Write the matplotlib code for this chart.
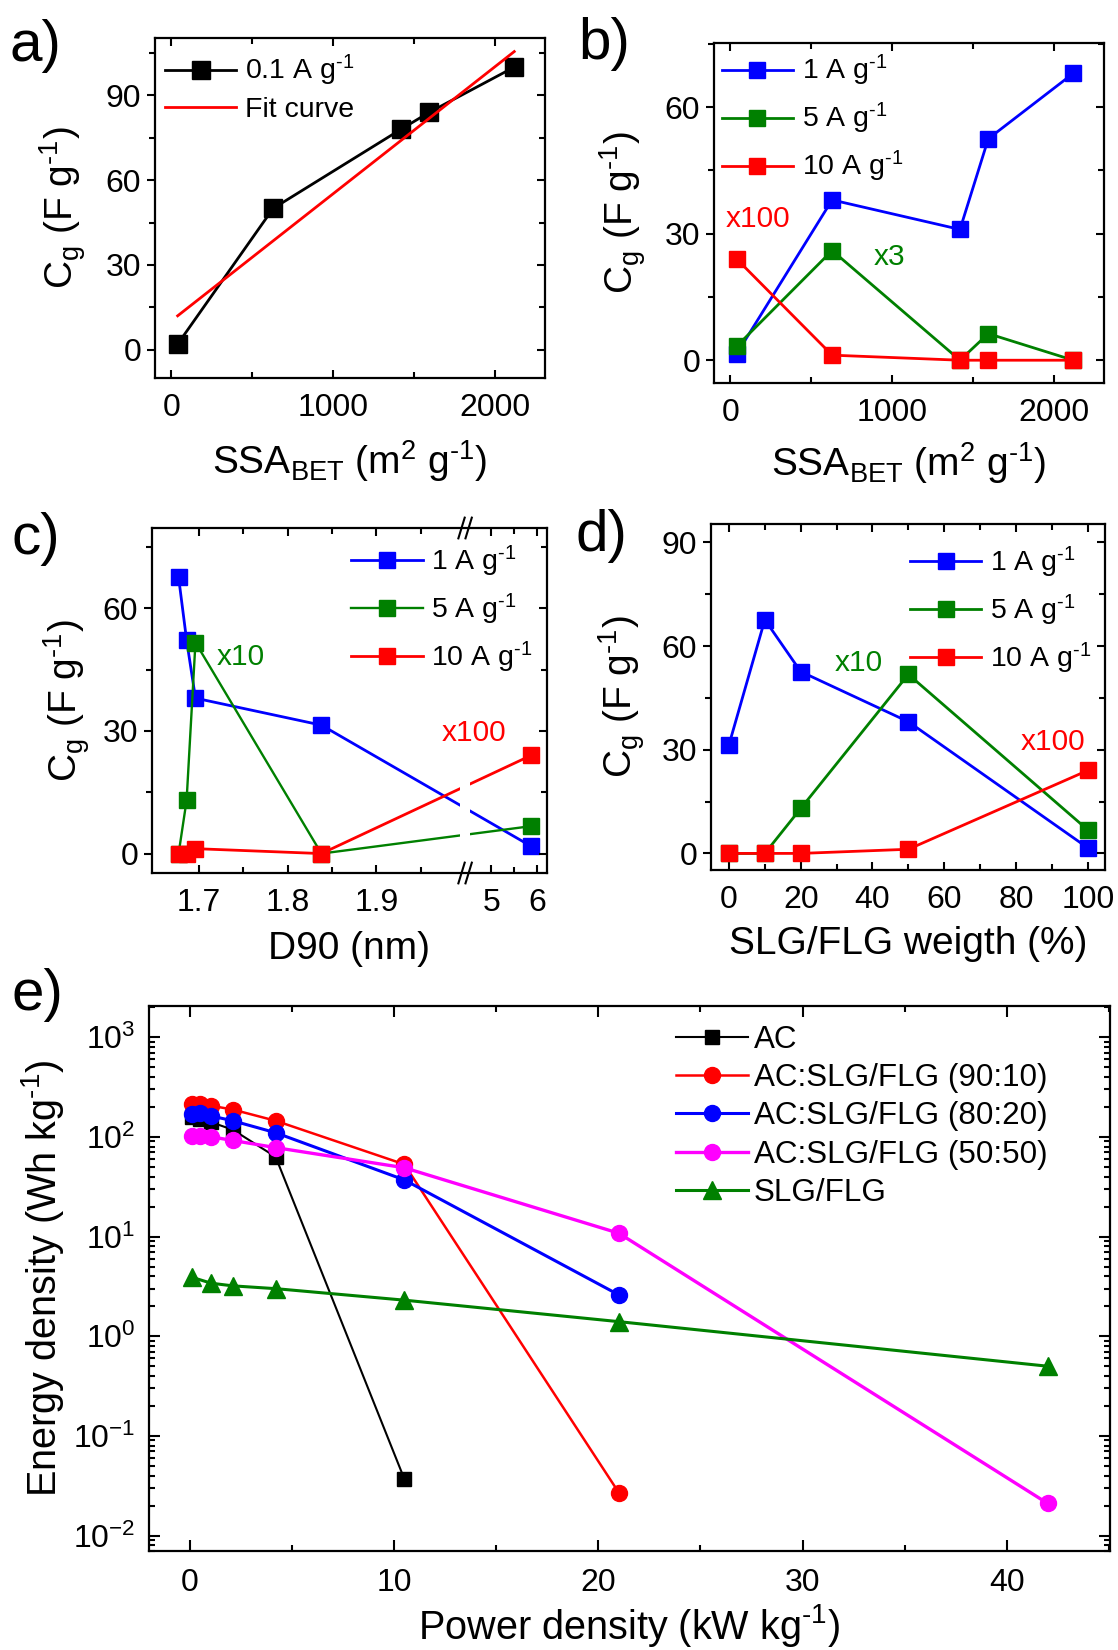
import numpy as np
import matplotlib
matplotlib.use('Agg')
import matplotlib.pyplot as plt
from matplotlib.ticker import MultipleLocator, FixedLocator, LogLocator, NullFormatter, FixedFormatter
from matplotlib.patches import Rectangle

plt.rcParams['font.family'] = ['Liberation Sans', 'DejaVu Sans']
plt.rcParams['mathtext.fontset'] = 'custom'
plt.rcParams['mathtext.rm'] = 'Liberation Sans'
plt.rcParams['mathtext.it'] = 'Liberation Sans:italic'
plt.rcParams['mathtext.bf'] = 'Liberation Sans:bold'
plt.rcParams['mathtext.sf'] = 'Liberation Sans'
plt.rcParams['axes.linewidth'] = 1.6

# ---------------- data ----------------
# panel a
ssa = [40, 630, 1420, 1595, 2120]
cg_01 = [2, 50, 78, 84, 100]
fit_ssa = [40, 2120]
fit_cg = [12, 105.5]
# panel b
cg1_ssa = [1.5, 38, 31, 52.5, 68]
cg5_ssa = [3.3, 26, 0, 6.3, 0]
cg10_ssa = [24, 1.2, 0, 0, 0]
# panel c
d90 = [1.677, 1.686, 1.696, 1.838, 5.87]
cg1_d90 = [67.5, 52.2, 38, 31.4, 1.8]
cg5_d90 = [0, 13, 51.6, 0, 6.7]
cg10_d90 = [0, 0, 1.2, 0, 24]
d90_ticks = [1.7, 1.8, 1.9, 5, 6]
d90_ticklabels = ['1.7', '1.8', '1.9', '5', '6']
d90_minor = [1.75, 1.85, 1.95, 5.5]
# panel d
wt = [0, 10, 20, 50, 100]
cg1_wt = [31.4, 67.6, 52.6, 38.1, 1.6]
cg5_wt = [0, 0, 13, 51.8, 6.8]
cg10_wt = [0, 0, 0, 1.2, 24]
# panel e
p_ac = [0.1, 0.5, 1.05, 2.1, 4.2, 10.5]
e_ac = [160, 150, 140, 118, 63, 0.037]
p_9010 = [0.1, 0.5, 1.05, 2.1, 4.2, 10.5, 21]
e_9010 = [212, 212, 205, 188, 145, 53, 0.027]
p_8020 = [0.1, 0.5, 1.05, 2.1, 4.2, 10.5, 21]
e_8020 = [170, 172, 162, 145, 110, 37, 2.6]
p_5050 = [0.1, 0.5, 1.05, 2.1, 4.2, 10.5, 21, 42]
e_5050 = [102, 102, 100, 92, 78, 49, 10.8, 0.021]
p_slg = [0.1, 1.05, 2.1, 4.2, 10.5, 21, 42]
e_slg = [3.9, 3.4, 3.2, 3.0, 2.3, 1.4, 0.5]

W, H = 1118, 1650
fig = plt.figure(figsize=(W / 100, H / 100), dpi=100)

BLUE, GREEN, RED, MAG = '#0000FF', '#008000', '#FF0000', '#FF00FF'
TICK_FS = 23
LAB_FS = 28
LEG_FS = 20.5
ANN_FS = 21.5
INV = '$^{\u2010 1}$'


def add_ax(left, top, right, bottom):
    return fig.add_axes([left / W, 1 - bottom / H, (right - left) / W, (bottom - top) / H])


def style_small(ax, ymaj, ymin):
    ax.tick_params(axis='x', which='both', direction='in', top=True, bottom=True, pad=11)
    ax.tick_params(axis='y', which='both', direction='out', left=True, right=False, pad=4)
    ax.tick_params(which='major', length=6, width=1.5, labelsize=TICK_FS)
    ax.tick_params(which='minor', length=4, width=1.5)
    ax.yaxis.set_major_locator(MultipleLocator(ymaj))
    ax.yaxis.set_minor_locator(MultipleLocator(ymin))
    tw = ax.twinx()
    tw.set_ylim(ax.get_ylim())
    tw.yaxis.set_major_locator(MultipleLocator(ymaj))
    tw.yaxis.set_minor_locator(MultipleLocator(ymin))
    tw.tick_params(axis='y', which='both', direction='in', right=True, labelright=False, width=1.5)
    tw.tick_params(which='major', length=6)
    tw.tick_params(which='minor', length=4)
    for s in tw.spines.values():
        s.set_visible(False)
    return tw


def set_labels(ax, xl, yl, xy_y, yx):
    ax.set_xlabel(xl, fontsize=LAB_FS)
    ax.set_ylabel(yl, fontsize=LAB_FS)
    ax.xaxis.set_label_coords(0.5, xy_y)
    ax.xaxis.label.set_va('center')
    ax.yaxis.set_label_coords(yx, 0.5)
    ax.yaxis.label.set_va('center')


def legend(ax, x, y, spacing):
    return ax.legend(loc='upper left', bbox_to_anchor=(x, y), frameon=False, fontsize=LEG_FS,
                     borderpad=0, borderaxespad=0, handlelength=2.5, handletextpad=0.3,
                     labelspacing=spacing)


YL = r'C$_\mathregular{g}$ (F g' + INV + ')'
SSAL = r'SSA$_\mathregular{BET}$ (m$^2$ g' + INV + ')'
AL = ['1 A g' + INV, '5 A g' + INV, '10 A g' + INV]

# ---------------- panel a ----------------
ax = add_ax(155, 38, 545, 378)
ax.plot(ssa, cg_01, '-s', color='k', lw=2, ms=13, label='0.1 A g' + INV)
ax.plot(fit_ssa, fit_cg, '-', color=RED, lw=2, label='Fit curve')
ax.set_xlim(-100, 2310)
ax.set_ylim(-10, 110.3)
ax.xaxis.set_major_locator(MultipleLocator(1000))
ax.xaxis.set_minor_locator(MultipleLocator(500))
style_small(ax, 30, 15)
set_labels(ax, SSAL, YL, -0.245, -0.236)
legend(ax, 0.026, 0.955, 0.3)

# ---------------- panel b ----------------
ax = add_ax(714, 43, 1104, 383)
ax.plot(ssa, cg1_ssa, '-s', color=BLUE, lw=2, ms=12, label=AL[0])
ax.plot(ssa, cg5_ssa, '-s', color=GREEN, lw=2, ms=12, label=AL[1])
ax.plot(ssa, cg10_ssa, '-s', color=RED, lw=2, ms=12, label=AL[2])
ax.set_xlim(-100, 2310)
ax.set_ylim(-5.4, 75.2)
ax.xaxis.set_major_locator(MultipleLocator(1000))
ax.xaxis.set_minor_locator(MultipleLocator(500))
style_small(ax, 30, 15)
set_labels(ax, SSAL, YL, -0.237, -0.235)
legend(ax, 0.02, 0.97, 0.45)
ax.text(0.03, 0.483, 'x100', color=RED, fontsize=ANN_FS, transform=ax.transAxes, ha='left', va='center')
ax.text(0.409, 0.371, 'x3', color=GREEN, fontsize=ANN_FS, transform=ax.transAxes, ha='left', va='center')

# ---------------- panel c (broken axis) ----------------
BRK_LO, BRK_HI, EPS, K = 2.0, 4.43, 0.0005, 0.05131


def fwd(x):
    x = np.asarray(x, dtype=float)
    return np.where(x <= BRK_LO, x,
                    np.where(x >= BRK_HI, BRK_LO + EPS + (x - BRK_HI) * K,
                             BRK_LO + (x - BRK_LO) / (BRK_HI - BRK_LO) * EPS))


def inv(u):
    u = np.asarray(u, dtype=float)
    return np.where(u <= BRK_LO, u,
                    np.where(u >= BRK_LO + EPS, BRK_HI + (u - BRK_LO - EPS) / K,
                             BRK_LO + (u - BRK_LO) / EPS * (BRK_HI - BRK_LO)))


ax = add_ax(152, 528, 547, 873)
ax.set_xscale('function', functions=(fwd, inv))
ax.plot(d90, cg1_d90, '-s', color=BLUE, lw=2, ms=12, label=AL[0])
ax.plot(d90, cg5_d90, '-s', color=GREEN, lw=1.7, ms=12, label=AL[1])
ax.plot(d90, cg10_d90, '-s', color=RED, lw=2, ms=12, label=AL[2])
ax.set_xlim(1.647, 6.22)
ax.set_ylim(-4.75, 79.6)
ax.xaxis.set_major_locator(FixedLocator(d90_ticks))
ax.xaxis.set_major_formatter(FixedFormatter(d90_ticklabels))
ax.xaxis.set_minor_locator(FixedLocator(d90_minor))
style_small(ax, 30, 15)
set_labels(ax, 'D90 (nm)', YL, -0.22, -0.215)
legend(ax, 0.505, 0.955, 0.45)
ax.text(0.164, 0.627, 'x10', color=GREEN, fontsize=ANN_FS, transform=ax.transAxes, ha='left', va='center')
ax.text(0.734, 0.405, 'x100', color=RED, fontsize=ANN_FS, transform=ax.transAxes, ha='left', va='center')
# break decoration
fig.canvas.draw()
bx = ax.transAxes.inverted().transform(ax.transData.transform((BRK_LO, 0)))[0]
ax.add_patch(Rectangle((bx - 0.012, -0.02), 0.024, 1.04, transform=ax.transAxes,
                       facecolor='white', edgecolor='none', zorder=2.3, clip_on=False))
for yb in (0.0, 1.0):
    for dx in (-0.009, 0.009):
        ax.plot([bx + dx - 0.008, bx + dx + 0.008], [yb - 0.03, yb + 0.03], color='k', lw=1.5,
                transform=ax.transAxes, clip_on=False, zorder=5)

# ---------------- panel d ----------------
ax = add_ax(711, 524, 1105, 870)
ax.plot(wt, cg1_wt, '-s', color=BLUE, lw=2, ms=12, label=AL[0])
ax.plot(wt, cg5_wt, '-s', color=GREEN, lw=2, ms=12, label=AL[1])
ax.plot(wt, cg10_wt, '-s', color=RED, lw=2, ms=12, label=AL[2])
ax.set_xlim(-5, 104.8)
ax.set_ylim(-4.8, 95.3)
ax.xaxis.set_major_locator(MultipleLocator(20))
ax.xaxis.set_minor_locator(MultipleLocator(10))
style_small(ax, 30, 15)
set_labels(ax, 'SLG/FLG weigth (%)', YL, -0.215, -0.226)
legend(ax, 0.505, 0.94, 0.45)
ax.text(0.314, 0.598, 'x10', color=GREEN, fontsize=ANN_FS, transform=ax.transAxes, ha='left', va='center')
ax.text(0.787, 0.371, 'x100', color=RED, fontsize=ANN_FS, transform=ax.transAxes, ha='left', va='center')

# ---------------- panel e ----------------
ax = add_ax(149, 1006, 1110, 1551)
ax.set_yscale('log')
ax.plot(p_ac, e_ac, '-s', color='k', lw=1.5, ms=10.5, label='AC')
ax.plot(p_9010, e_9010, '-o', color=RED, lw=1.8, ms=11.5, label='AC:SLG/FLG (90:10)')
ax.plot(p_8020, e_8020, '-o', color=BLUE, lw=2.2, ms=11.5, label='AC:SLG/FLG (80:20)')
ax.plot(p_5050, e_5050, '-o', color=MAG, lw=2.4, ms=11.5, label='AC:SLG/FLG (50:50)')
ax.plot(p_slg, e_slg, '-^', color=GREEN, lw=2.2, ms=13, label='SLG/FLG')
ax.set_xlim(-2, 45.05)
ax.set_ylim(0.007, 2055)
ax.xaxis.set_major_locator(MultipleLocator(10))
ax.xaxis.set_minor_locator(MultipleLocator(5))
ax.yaxis.set_major_locator(LogLocator(base=10, numticks=10))
ax.yaxis.set_minor_locator(LogLocator(base=10, subs=np.arange(2, 10), numticks=20))
ax.yaxis.set_minor_formatter(NullFormatter())
ax.tick_params(which='both', direction='in', top=True, right=True, width=1.5)
ax.tick_params(which='major', length=8, labelsize=TICK_FS)
ax.tick_params(which='minor', length=4)
ax.tick_params(axis='x', pad=12)
ax.tick_params(axis='y', pad=10)
ax.set_xlabel('Power density (kW kg' + INV + ')', fontsize=28.5)
ax.set_ylabel('Energy density (Wh kg' + INV + ')', fontsize=28.5)
ax.xaxis.set_label_coords(0.5, -0.137)
ax.xaxis.label.set_va('center')
ax.yaxis.set_label_coords(-0.111, 0.5)
ax.yaxis.label.set_va('center')
ax.legend(loc='upper left', bbox_to_anchor=(0.548, 0.965), frameon=False, fontsize=22.6,
          borderpad=0, borderaxespad=0, handlelength=2.3, handletextpad=0.2, labelspacing=0.26)

# panel labels
for txt, xpx, ypx in [('a)', 10, 46), ('b)', 578, 44), ('c)', 12, 539), ('d)', 576, 536), ('e)', 12, 995)]:
    fig.text(xpx / W, 1 - ypx / H, txt, fontsize=42, ha='left', va='center')

fig.savefig('out.png', dpi=100)
